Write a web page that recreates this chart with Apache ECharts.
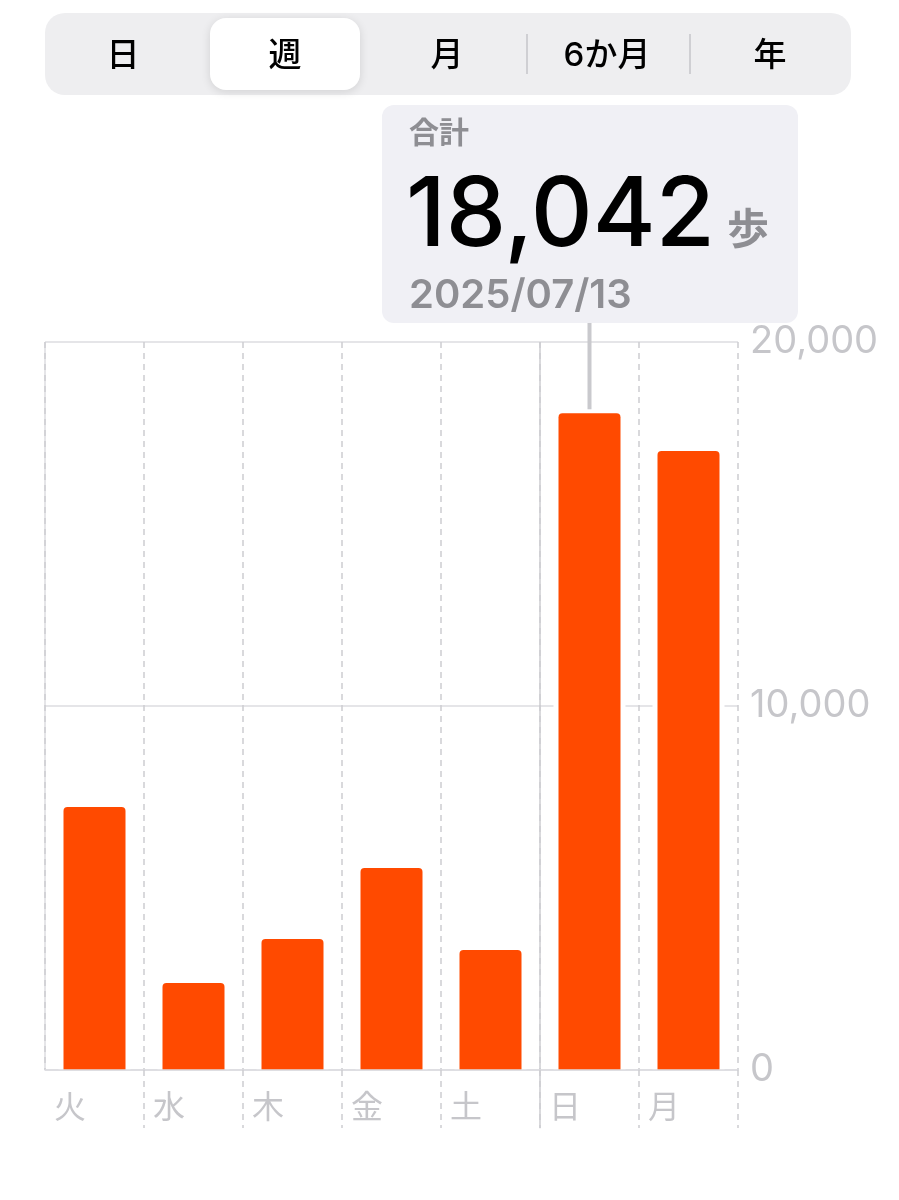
<!DOCTYPE html>
<html>
<head>
<meta charset="utf-8">
<script src="https://cdn.jsdelivr.net/npm/echarts@6/dist/echarts.min.js"></script>
<style>
html,body{margin:0;padding:0;background:#fff;}
#chart{width:899px;height:1200px;}
</style>
</head>
<body>
<div id="chart"></div>
<script>
// ---- data ----
const days = ['火', '水', '木', '金', '土', '日', '月'];
const steps = [7225, 2390, 3599, 5549, 3297, 18042, 17005];
const yTicks = [0, 10000, 20000];
const segments = ['日', '週', '月', '6か月', '年'];
const selectedSegment = 1;
const selectedDay = 5;
const tipTitle = '合計';
const tipUnit = '歩';
const tipDate = '2025/07/13';
const weekSeparatorAt = 5;

const FONT = 'Inter, "Noto Sans CJK JP", sans-serif';
const GREY = '#c6c6ca';
const LINE = '#dcdce0';
const ORANGE = '#ff4a00';

const chart = echarts.init(document.getElementById('chart'), null, {renderer: 'canvas'});

const segX = [123, 285, 447, 607, 770];

const option = {
  animation: false,
  backgroundColor: '#ffffff',
  grid: {left: 45, right: 161, top: 342, bottom: 130, containLabel: false},
  xAxis: [
    {
      type: 'category', data: days, boundaryGap: true, z: 3,
      axisLine: {show: true, lineStyle: {color: LINE, width: 1.5}},
      axisTick: {show: true, interval: i => i !== 0, length: 58, lineStyle: {color: '#cdcdd1', type: [6, 5], width: 1.5}},
      splitLine: {show: true, interval: 0, lineStyle: {color: '#cdcdd1', type: [6, 5], width: 1.5}},
      axisLabel: {
        interval: 0, margin: 22,
        formatter: v => '{a|' + v + '}',
        rich: {a: {width: 81, align: 'left', fontSize: 32, color: GREY, fontFamily: FONT}}
      }
    },
    {type: 'value', min: 0, max: 7, show: false},
    {type: 'category', data: days, show: false}
  ],
  yAxis: {
    type: 'value', position: 'right', min: 0, max: 20000, interval: 10000,
    axisLine: {show: false}, axisTick: {show: false},
    splitLine: {show: true, lineStyle: {color: LINE, width: 1.5}},
    axisLabel: {
      margin: 12, fontSize: 38, color: GREY, fontFamily: FONT,
      formatter: v => yTicks.includes(v) ? v.toLocaleString('en-US') : ''
    }
  },
  series: [
    {
      name: 'gap', type: 'bar', xAxisIndex: 2, data: steps, barWidth: 72,
      itemStyle: {color: '#ffffff'}, silent: true, z: 1
    },
    {
      name: '歩数', type: 'bar', xAxisIndex: 0, data: steps, barWidth: 62,
      itemStyle: {color: ORANGE, borderRadius: [4, 4, 0, 0]}, z: 2
    },
    {
      name: 'left', type: 'line', xAxisIndex: 1, data: [[0, 0], [0, 20000]],
      symbol: 'none', lineStyle: {color: LINE, width: 1.5}, clip: false, silent: true, z: 1
    },
    {
      name: 'sep', type: 'line', xAxisIndex: 1, data: [[weekSeparatorAt, -1600], [weekSeparatorAt, 20000]],
      symbol: 'none', lineStyle: {color: '#cdcdd1', width: 1.5}, clip: false, silent: true, z: 1
    }
  ]
};
chart.setOption(option);

const barTop = chart.convertToPixel({xAxisIndex: 0, yAxisIndex: 0}, [selectedDay, steps[selectedDay]]);

const graphics = [
  {type: 'rect', shape: {x: 45, y: 13, width: 806, height: 82, r: 20}, style: {fill: '#eeeef0'}, z: 10},
  {type: 'rect', shape: {x: 210, y: 18, width: 150, height: 72, r: 16},
   style: {fill: '#ffffff', shadowBlur: 10, shadowColor: 'rgba(0,0,0,0.12)', shadowOffsetY: 2}, z: 11},
  {type: 'line', shape: {x1: 527, y1: 34, x2: 527, y2: 74}, style: {stroke: '#cfcfd3', lineWidth: 2}, z: 11},
  {type: 'line', shape: {x1: 690, y1: 34, x2: 690, y2: 74}, style: {stroke: '#cfcfd3', lineWidth: 2}, z: 11},
  // tooltip
  {type: 'line', shape: {x1: barTop[0], y1: 320, x2: barTop[0], y2: barTop[1] - 4}, style: {stroke: '#c9c9cd', lineWidth: 4}, z: 10},
  {type: 'rect', shape: {x: 382, y: 105, width: 416, height: 218, r: 12}, style: {fill: '#f0f0f5'}, z: 11},
  {type: 'text', x: 409, y: 134, style: {text: tipTitle, font: '600 30px ' + FONT, fill: '#8e8e93', verticalAlign: 'middle'}, z: 12},
  {type: 'text', x: 406, y: 217, style: {text: steps[selectedDay].toLocaleString('en-US'), font: '500 96px ' + FONT, fill: '#000000', verticalAlign: 'middle'}, z: 12},
  {type: 'text', x: 727, y: 231, style: {text: tipUnit, font: '600 42px ' + FONT, fill: '#8e8e93', verticalAlign: 'middle'}, z: 12},
  {type: 'text', x: 409, y: 296, style: {text: tipDate, font: '600 40px ' + FONT, fill: '#8e8e93', verticalAlign: 'middle'}, z: 12}
];
segments.forEach((s, i) => {
  graphics.push({type: 'text', x: segX[i], y: 56, style: {text: s, font: '500 33px ' + FONT, fill: '#000000', align: 'center', verticalAlign: 'middle'}, z: 12});
});
chart.setOption({graphic: {elements: graphics}});
</script>
</body>
</html>
